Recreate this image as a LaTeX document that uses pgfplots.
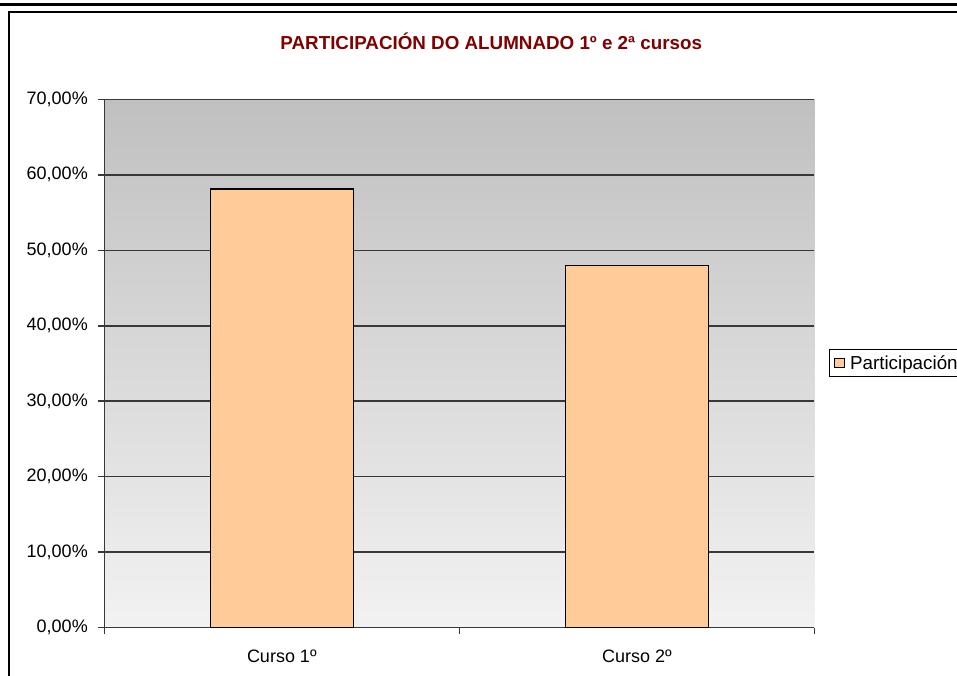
\documentclass[border=0pt]{standalone}
\usepackage{pgfplots}
\pgfplotsset{compat=1.18}
\usepackage{fontspec}
\setmainfont{Liberation Sans}
\definecolor{barfill}{RGB}{255,204,153}
\definecolor{titlered}{RGB}{128,0,0}
\definecolor{gridc}{RGB}{56,56,56}
\begin{document}
\begin{tikzpicture}
\path[use as bounding box, clip] (0pt,0pt) rectangle (957pt,675pt);
\fill[white] (0pt,0pt) rectangle (957pt,675pt);
\draw[black, line width=2.5pt] (-5pt,670.5pt) -- (962pt,670.5pt);
\draw[black, line width=1.6pt] (9pt,-20pt) rectangle (990pt,663pt);
\begin{axis}[
  at={(104.3pt,47.3pt)}, anchor=south west,
  scale only axis, width=710pt, height=528.4pt,
  xmin=-0.5, xmax=1.5, ymin=0, ymax=70,
  enlargelimits=false,
  axis x line*=bottom, axis y line*=left,
  axis line style={gridc, line width=1.5pt},
  axis background/.style={shade, top color={rgb,255:red,192;green,192;blue,192}, bottom color={rgb,255:red,242;green,242;blue,242}},
  ymajorgrids, major grid style={gridc, line width=1.5pt},
  tick align=outside, major tick length=6pt,
  tick style={gridc, line width=1.5pt},
  ytick={0,10,20,30,40,50,60,70},
  yticklabels={{0,00\%},{10,00\%},{20,00\%},{30,00\%},{40,00\%},{50,00\%},{60,00\%},{70,00\%}},
  yticklabel style={font=\fontsize{18}{22}\selectfont, xshift=-7pt},
  xtick={-0.5,0.5,1.5}, xticklabels={},
  extra x ticks={0,1},
  extra x tick labels={Curso 1º,Curso 2º},
  extra x tick style={major tick length=0pt, tick style={draw=none},
     xticklabel style={font=\fontsize{18}{22}\selectfont, yshift=-19pt}},
  title={PARTICIPACIÓN DO ALUMNADO 1º e 2ª cursos},
  title style={at={(0.545,1.1046)}, anchor=center, yshift=-3pt, font=\bfseries\fontsize{18.8}{22}\selectfont, text=titlered},
  ybar, bar width=143pt,
  legend style={at={(1.0211,0.5275)}, anchor=north west, draw=black, line width=1pt,
     font=\fontsize{18.8}{22}\selectfont, inner xsep=4pt, inner ysep=4pt,
     nodes={inner sep=2pt}},
  legend image code/.code={\draw[#1, line width=1pt] (2pt,-4.2pt) rectangle (12pt,4.2pt); \path (15pt,0pt);},
]
\addplot[fill=barfill, draw=black, line width=1.5pt] coordinates {(0,58.1) (1,48.0)};
\addlegendentry{Participación}
\end{axis}
\end{tikzpicture}
\end{document}
